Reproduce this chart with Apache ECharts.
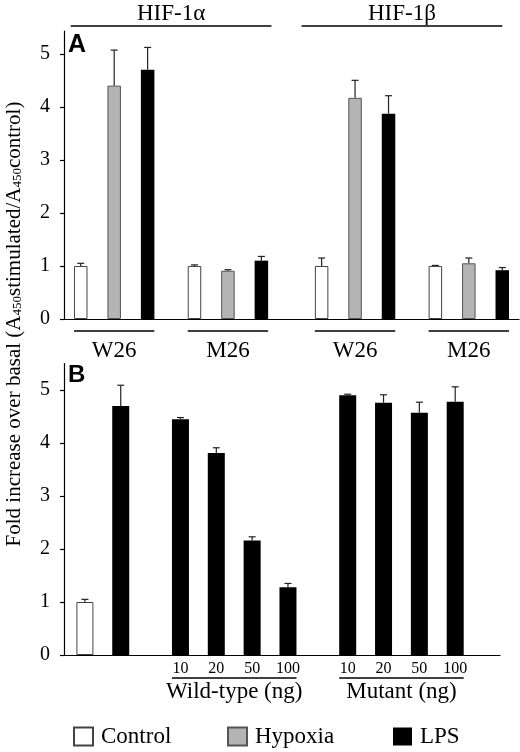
<!DOCTYPE html>
<html>
<head>
<meta charset="utf-8">
<script src="https://cdn.jsdelivr.net/npm/echarts@6/dist/echarts.min.js"></script>
<style>
  html, body { margin: 0; padding: 0; background: #fff; }
  #main { width: 520px; height: 752px; }
</style>
</head>
<body>
<div id="main"></div>
<script>
// ---- panel A : HIF-1a / HIF-1b, W26 and M26 constructs ----
const headersA = ['HIF-1α', 'HIF-1β'];
const groupsA = ['W26', 'M26', 'W26', 'M26'];
const controlA = [1.0, 1.0, 1.0, 1.0];
const controlErrA = [0.05, 0.02, 0.15, 0.01];
const hypoxiaA = [4.40, 0.91, 4.17, 1.05];
const hypoxiaErrA = [0.67, 0.02, 0.33, 0.10];
const lpsA = [4.70, 1.10, 3.87, 0.92];
const lpsErrA = [0.42, 0.08, 0.34, 0.05];

// ---- panel B : LPS response with wild-type / mutant competitor ----
const controlB = 1.0;
const controlErrB = 0.05;
const lpsB = 4.70;
const lpsErrB = 0.39;
const doses = ['10', '20', '50', '100'];
const wildType = [4.45, 3.81, 2.16, 1.28];
const wildTypeErr = [0.03, 0.10, 0.07, 0.07];
const mutant = [4.90, 4.76, 4.57, 4.78];
const mutantErr = [0.02, 0.15, 0.20, 0.28];
const doseGroups = ['Wild-type (ng)', 'Mutant (ng)'];

const yTicks = [0, 1, 2, 3, 4, 5];

const SERIF = 'Liberation Serif, Times New Roman, serif';
const SANS = 'Liberation Sans, Arial, sans-serif';

// slot layout of panel A (category axis with empty spacer slots)
const slotsA = [];
let pos = 2;
groupsA.forEach((g, gi) => {
  slotsA.push([pos, pos + 5, pos + 10]);
  pos += 10 + (gi === 1 ? 9 : 7);
});
const nA = slotsA[3][2] + 3;

// slot layout of panel B
const slotCtrlB = 3;
const slotLpsB = slotCtrlB + 6;
const slotsWT = doses.map((d, i) => slotLpsB + 10 + i * 6);
const slotsMut = doses.map((d, i) => slotsWT[3] + 10 + i * 6);
const nB = 73;

function empty(n) {
  return new Array(n).fill('-');
}

let catA = new Array(nA).fill('');
groupsA.forEach((g, i) => { catA[slotsA[i][1]] = g; });
let catB = new Array(nB).fill('');
doses.forEach((d, i) => { catB[slotsWT[i]] = d; catB[slotsMut[i]] = d; });

let ctrlDataA = empty(nA), hypDataA = empty(nA), lpsDataA = empty(nA);
let errA = [];
groupsA.forEach((g, i) => {
  ctrlDataA[slotsA[i][0]] = controlA[i];
  hypDataA[slotsA[i][1]] = hypoxiaA[i];
  lpsDataA[slotsA[i][2]] = lpsA[i];
  errA.push([slotsA[i][0], controlA[i], controlErrA[i]]);
  errA.push([slotsA[i][1], hypoxiaA[i], hypoxiaErrA[i]]);
  errA.push([slotsA[i][2], lpsA[i], lpsErrA[i]]);
});

let ctrlDataB = empty(nB), lpsDataB = empty(nB);
let errB = [];
ctrlDataB[slotCtrlB] = controlB;
lpsDataB[slotLpsB] = lpsB;
errB.push([slotCtrlB, controlB, controlErrB]);
errB.push([slotLpsB, lpsB, lpsErrB]);
doses.forEach((d, i) => {
  lpsDataB[slotsWT[i]] = wildType[i];
  lpsDataB[slotsMut[i]] = mutant[i];
  errB.push([slotsWT[i], wildType[i], wildTypeErr[i]]);
  errB.push([slotsMut[i], mutant[i], mutantErr[i]]);
});

const ctrlStyle = { color: '#fff', borderColor: '#444', borderWidth: 1 };
const hypStyle = { color: '#b4b4b4', borderColor: '#555', borderWidth: 1 };
const lpsStyle = { color: '#000', borderColor: '#000', borderWidth: 0 };

function errorBar(params, api) {
  const x = api.value(0), v = api.value(1), e = api.value(2);
  const base = api.coord([x, v]);
  const top = api.coord([x, v + e]);
  const style = { stroke: '#222', lineWidth: 1.2 };
  return {
    type: 'group',
    children: [
      { type: 'line', shape: { x1: base[0], y1: base[1], x2: top[0], y2: top[1] }, style: style },
      { type: 'line', shape: { x1: top[0] - 3.5, y1: top[1], x2: top[0] + 3.5, y2: top[1] }, style: style }
    ]
  };
}

function yAxisCfg(gridIndex, max) {
  return {
    type: 'value', gridIndex: gridIndex, min: 0, max: max, interval: 1,
    splitLine: { show: false },
    axisLine: { show: true, lineStyle: { color: '#000', width: 1.2 } },
    axisTick: { show: true, length: 4, customValues: yTicks, lineStyle: { color: '#000', width: 1.2 } },
    axisLabel: { customValues: yTicks, fontFamily: SERIF, fontSize: 20, color: '#000', margin: 14 }
  };
}

function legendCfg(name, left) {
  return {
    data: [name], left: left, top: 725, padding: 0, icon: 'rect',
    itemWidth: 19, itemHeight: 18, selectedMode: false,
    textStyle: { fontFamily: SERIF, fontSize: 23, color: '#000', padding: [0, 0, 0, 3] }
  };
}

const chart = echarts.init(document.getElementById('main'));

const option = {
  backgroundColor: '#fff',
  animation: false,
  grid: [
    { left: 64, top: 31, width: 455, height: 288, outerBoundsMode: 'none' },
    { left: 64, top: 363.5, width: 436, height: 291.5, outerBoundsMode: 'none' }
  ],
  legend: [
    legendCfg('Control', 73),
    legendCfg('Hypoxia', 227),
    legendCfg('LPS', 393)
  ],
  xAxis: [
    {
      type: 'category', gridIndex: 0, data: catA,
      axisLine: { lineStyle: { color: '#000', width: 1.2 } },
      axisTick: { show: false },
      axisLabel: { interval: 0, fontFamily: SERIF, fontSize: 23, color: '#000', margin: 20 }
    },
    {
      type: 'category', gridIndex: 1, data: catB,
      axisLine: { lineStyle: { color: '#000', width: 1.2 } },
      axisTick: { show: false },
      axisLabel: { interval: 0, fontFamily: SERIF, fontSize: 16, color: '#000', margin: 6 }
    }
  ],
  yAxis: [yAxisCfg(0, 5.43), yAxisCfg(1, 5.5)],
  series: [
    { name: 'Control', type: 'bar', xAxisIndex: 0, yAxisIndex: 0, data: ctrlDataA,
      barWidth: 13.5, barGap: '-100%', itemStyle: ctrlStyle },
    { name: 'Hypoxia', type: 'bar', xAxisIndex: 0, yAxisIndex: 0, data: hypDataA,
      barWidth: 13.5, barGap: '-100%', itemStyle: hypStyle },
    { name: 'LPS', type: 'bar', xAxisIndex: 0, yAxisIndex: 0, data: lpsDataA,
      barWidth: 13.5, barGap: '-100%', itemStyle: lpsStyle },
    { type: 'custom', xAxisIndex: 0, yAxisIndex: 0, data: errA, renderItem: errorBar, z: 5 },
    { name: 'Control', type: 'bar', xAxisIndex: 1, yAxisIndex: 1, data: ctrlDataB,
      barWidth: 17, barGap: '-100%', itemStyle: ctrlStyle },
    { name: 'LPS', type: 'bar', xAxisIndex: 1, yAxisIndex: 1, data: lpsDataB,
      barWidth: 17, barGap: '-100%', itemStyle: lpsStyle },
    { type: 'custom', xAxisIndex: 1, yAxisIndex: 1, data: errB, renderItem: errorBar, z: 5 }
  ]
};
chart.setOption(option);

// annotations placed from the axes' own pixel mapping
const x0A = chart.convertToPixel({ xAxisIndex: 0 }, 0);
const swA = chart.convertToPixel({ xAxisIndex: 0 }, 1) - x0A;
const fxA = i => x0A + i * swA;
const x0B = chart.convertToPixel({ xAxisIndex: 1 }, 0);
const swB = chart.convertToPixel({ xAxisIndex: 1 }, 1) - x0B;
const fxB = i => x0B + i * swB;
const baseA = chart.convertToPixel({ yAxisIndex: 0 }, 0);
const baseB = chart.convertToPixel({ yAxisIndex: 1 }, 0);

const lineStyle = { stroke: '#000', lineWidth: 1.3 };
const graphics = [];

// HIF headers
const headerSpans = [[0.5, 30.5], [35, 65]];
headersA.forEach((h, i) => {
  const a = fxA(headerSpans[i][0]), b = fxA(headerSpans[i][1]);
  graphics.push({ type: 'line', shape: { x1: a, y1: 26, x2: b, y2: 26 }, style: lineStyle });
  graphics.push({ type: 'text', x: (a + b) / 2, y: 14,
    style: { text: h, font: '23px ' + SERIF, fill: '#000', align: 'center', verticalAlign: 'middle' } });
});

// W26 / M26 underlines
groupsA.forEach((g, i) => {
  const a = fxA(slotsA[i][0]) - 6.75, b = fxA(slotsA[i][2]) + 6.75;
  graphics.push({ type: 'line', shape: { x1: a, y1: baseA + 12, x2: b, y2: baseA + 12 }, style: lineStyle });
});

// dose group underlines and names
[slotsWT, slotsMut].forEach((s, i) => {
  const a = fxB(s[0]) - 8.5, b = fxB(s[3]) + 8.5;
  graphics.push({ type: 'line', shape: { x1: a, y1: baseB + 23, x2: b, y2: baseB + 23 }, style: lineStyle });
  graphics.push({ type: 'text', x: (a + b) / 2, y: baseB + 37,
    style: { text: doseGroups[i], font: '23px ' + SERIF, fill: '#000', align: 'center', verticalAlign: 'middle' } });
});

// panel letters
graphics.push({ type: 'text', x: 68, y: 45,
  style: { text: 'A', font: 'bold 25px ' + SANS, fill: '#000', verticalAlign: 'middle' } });
graphics.push({ type: 'text', x: 68, y: 375,
  style: { text: 'B', font: 'bold 24px ' + SANS, fill: '#000', verticalAlign: 'middle' } });

// shared y-axis title
graphics.push({
  type: 'text', x: 14, y: 324, rotation: Math.PI / 2,
  style: {
    text: 'Fold increase over basal (A{sub|450}stimulated/A{sub|450}control)',
    fontFamily: SERIF, fontSize: 21, fill: '#000', align: 'center', verticalAlign: 'middle',
    rich: { sub: { fontFamily: SERIF, fontSize: 13, verticalAlign: 'bottom', lineHeight: 8 } }
  }
});

chart.setOption({ graphic: graphics });
</script>
</body>
</html>
